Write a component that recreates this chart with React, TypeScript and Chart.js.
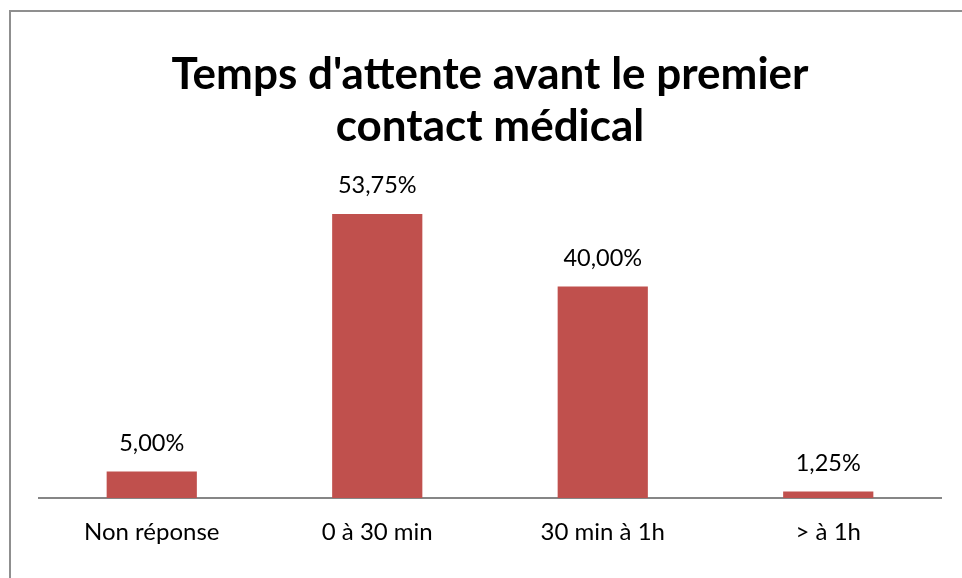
import React, { useEffect, useRef } from "react";
import { Chart, registerables } from "chart.js";

Chart.register(...registerables);

const categories = ["Non réponse", "0 à 30 min", "30 min à 1h", "> à 1h"];
const values = [5.0, 53.75, 40.0, 1.25];
const valueLabels = ["5,00%", "53,75%", "40,00%", "1,25%"];
const titleLines = ["Temps d'attente avant le premier", "contact médical"];

const FONT = "Lato, 'Open Sans', 'DejaVu Sans', sans-serif";

const dataLabelPlugin = {
  id: "dataLabels",
  afterDatasetsDraw(chart: any) {
    const ctx = chart.ctx;
    const meta = chart.getDatasetMeta(0);
    ctx.save();
    ctx.fillStyle = "#000000";
    ctx.font = `23.5px ${FONT}`;
    ctx.textAlign = "center";
    ctx.textBaseline = "middle";
    meta.data.forEach((bar: any, i: number) => {
      ctx.fillText(valueLabels[i], bar.x, bar.y - 28);
    });
    ctx.restore();
  },
};

export default function App() {
  const canvasRef = useRef<HTMLCanvasElement | null>(null);

  useEffect(() => {
    if (!canvasRef.current) return;
    const chart = new Chart(canvasRef.current, {
      type: "bar",
      data: {
        labels: categories,
        datasets: [
          {
            data: values,
            backgroundColor: "#C0504D",
            borderWidth: 0,
            categoryPercentage: 1,
            barPercentage: 0.4,
          },
        ],
      },
      options: {
        animation: false,
        responsive: false,
        maintainAspectRatio: false,
        layout: { padding: { left: 39, right: 21, top: 0, bottom: 0 } },
        plugins: {
          legend: { display: false },
          tooltip: { enabled: false },
          title: {
            display: true,
            text: titleLines,
            color: "#000000",
            font: { family: FONT, size: 44, weight: "bold", lineHeight: 1.18 },
            padding: { top: 49, bottom: 28 },
          },
        },
        scales: {
          y: {
            display: false,
            min: 0,
            max: 60,
          },
          x: {
            grid: { display: false, drawTicks: false },
            border: { display: true, color: "#868686", width: 2 },
            ticks: {
              color: "#000000",
              font: { family: FONT, size: 24 },
              padding: 20,
            },
            afterFit(scale: any) {
              scale.height = 80;
            },
          },
        },
      },
      plugins: [dataLabelPlugin],
    });
    return () => chart.destroy();
  }, []);

  return (
    <div style={{ position: "fixed", left: 0, top: 0, width: 962, height: 578, background: "#ffffff", overflow: "hidden" }}>
      <div
        style={{
          position: "absolute",
          left: 9,
          top: 10,
          width: 1000,
          height: 1000,
          border: "2px solid #8f8f8f",
          boxSizing: "border-box",
        }}
      />
      <canvas ref={canvasRef} width={962} height={578} style={{ position: "absolute", left: 0, top: 0 }} />
    </div>
  );
}
